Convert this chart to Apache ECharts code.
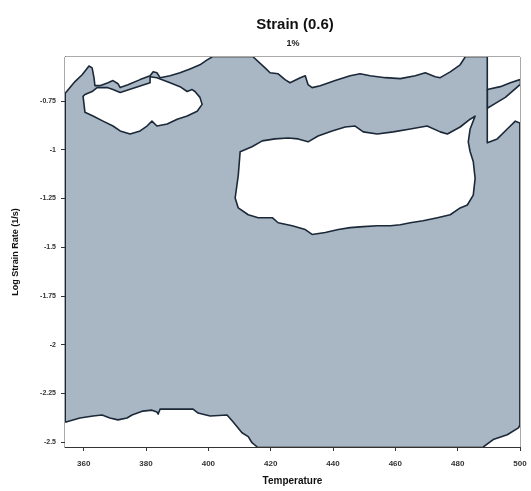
<!DOCTYPE html>
<html><head><meta charset="utf-8">
<script src="https://cdn.jsdelivr.net/npm/echarts@6/dist/echarts.min.js"></script>
<style>html,body{margin:0;padding:0;background:#fff}#c{width:531px;height:491px}</style>
</head><body><div id="c"></div>
<script>
// axis ranges and tick labels
const xRange = [354, 500];
const yRange = [-2.525, -0.525];
const xTicks = [360, 380, 400, 420, 440, 460, 480, 500];
const yTicks = [-0.75, -1, -1.25, -1.5, -1.75, -2, -2.25, -2.5];

// white regions: [Temperature, log strain rate]
const regionTopLeft = [[354,-0.525],[354,-0.712],[357.2,-0.651],[359.5,-0.616],[361.7,-0.571],[362.7,-0.581],[363.3,-0.631],[363.6,-0.672],[365.2,-0.672],[367.8,-0.657],[369.4,-0.646],[371.0,-0.662],[371.7,-0.682],[374.2,-0.667],[378.1,-0.641],[381.3,-0.621],[382.3,-0.601],[383.5,-0.606],[384.5,-0.631],[387.7,-0.621],[390.9,-0.606],[394.1,-0.586],[397.3,-0.565],[399.6,-0.540],[401.2,-0.525]];
const holeTopLeft = [[359.8,-0.727],[360.4,-0.808],[363.0,-0.828],[366.2,-0.854],[369.4,-0.879],[371.7,-0.904],[374.9,-0.920],[378.1,-0.904],[380.3,-0.879],[381.9,-0.854],[383.5,-0.879],[386.8,-0.869],[390.0,-0.844],[393.2,-0.828],[396.4,-0.803],[398.0,-0.768],[397.3,-0.732],[395.7,-0.702],[394.8,-0.692],[393.2,-0.702],[390.9,-0.677],[387.7,-0.657],[383.5,-0.631],[381.3,-0.626],[381.3,-0.657],[371.7,-0.707],[369.4,-0.692],[367.5,-0.682],[364.3,-0.682],[362.7,-0.702],[360.4,-0.717]];
const regionTopMid = [[414.4,-0.525],[418.2,-0.581],[419.8,-0.606],[422.4,-0.611],[424.6,-0.641],[426.2,-0.657],[429.5,-0.631],[431.1,-0.621],[432.0,-0.667],[433.3,-0.682],[435.9,-0.672],[440.7,-0.646],[445.5,-0.621],[448.7,-0.611],[451.9,-0.621],[456.8,-0.631],[461.6,-0.636],[466.4,-0.621],[469.6,-0.606],[472.8,-0.626],[474.4,-0.631],[477.6,-0.601],[480.8,-0.565],[482.4,-0.525]];
const regionTopRight = [[500,-0.641],[496.9,-0.657],[493.7,-0.677],[489.5,-0.692],[489.5,-0.525],[500,-0.525]];
const regionRightMid = [[500,-0.864],[498.5,-0.854],[495.9,-0.894],[492.7,-0.945],[489.5,-0.965],[489.5,-0.788],[492.1,-0.763],[495.3,-0.732],[500,-0.667]];
const holeCentral = [[410.2,-1.011],[414.0,-0.985],[417.3,-0.955],[421.4,-0.945],[425.6,-0.940],[428.8,-0.945],[432.0,-0.960],[435.2,-0.930],[439.7,-0.904],[443.9,-0.884],[447.1,-0.879],[449.7,-0.909],[454.2,-0.920],[459.3,-0.909],[464.8,-0.894],[470.2,-0.879],[474.4,-0.909],[476.7,-0.920],[480.8,-0.884],[484.0,-0.844],[485.6,-0.828],[484.0,-0.894],[483.4,-0.960],[484.0,-1.011],[485.0,-1.061],[485.6,-1.147],[485.0,-1.233],[483.1,-1.284],[480.8,-1.299],[477.6,-1.334],[473.5,-1.349],[468.9,-1.365],[464.8,-1.375],[461.6,-1.385],[458.4,-1.390],[454.2,-1.390],[449.7,-1.395],[445.5,-1.400],[441.7,-1.410],[437.5,-1.425],[433.3,-1.435],[431.1,-1.410],[426.9,-1.390],[422.4,-1.375],[420.5,-1.349],[416.0,-1.349],[412.8,-1.334],[409.6,-1.299],[408.6,-1.248],[409.6,-1.132]];
const regionBottomLeft = [[354,-2.396],[354.6,-2.396],[358.8,-2.376],[363.0,-2.366],[365.9,-2.361],[368.4,-2.376],[371.0,-2.386],[373.9,-2.376],[375.5,-2.361],[379.0,-2.341],[381.9,-2.336],[383.5,-2.346],[383.9,-2.356],[384.5,-2.331],[388.7,-2.331],[395.1,-2.331],[396.7,-2.351],[400.6,-2.366],[406.0,-2.361],[407.9,-2.396],[410.8,-2.452],[412.8,-2.472],[414.0,-2.503],[415.7,-2.525],[354,-2.525]];
const regionBottomRight = [[488.2,-2.525],[491.4,-2.487],[495.9,-2.462],[499.5,-2.427],[500,-2.412],[500,-2.525]];
// extra contour segments
const bandDivider = [[489.5,-0.692],[489.5,-0.788]];
const leftEdge = [[354,-0.712],[354,-2.396]];
const rightEdge = [[500,-0.864],[500,-2.412]];

const whiteRegions = [
  [regionTopLeft, false], [holeTopLeft, true], [regionTopMid, false], [regionTopRight, false],
  [regionRightMid, false], [holeCentral, true], [regionBottomLeft, false], [regionBottomRight, false]
];
const extraLines = [bandDivider, leftEdge, rightEdge];

const FILL = '#a9b7c5';
const LINE = '#1b2838';

function isCorner(p) {
  return (p[0] === xRange[0] || p[0] === xRange[1]) && (p[1] === yRange[0] || p[1] === yRange[1]);
}
const series = [];
whiteRegions.forEach(([pts]) => {
  series.push({
    type: 'custom', coordinateSystem: 'cartesian2d', silent: true, clip: true, z: 2,
    data: [pts[0]],
    renderItem: (params, api) => ({
      type: 'polygon', shape: { points: pts.map(p => api.coord(p)) },
      style: { fill: '#ffffff', stroke: null }
    })
  });
});
whiteRegions.forEach(([pts, closed]) => {
  const linePts = closed ? pts : pts.filter(p => !isCorner(p));
  series.push({
    type: 'custom', coordinateSystem: 'cartesian2d', silent: true, clip: true, z: 3,
    data: [linePts[0]],
    renderItem: (params, api) => ({
      type: closed ? 'polygon' : 'polyline',
      shape: { points: linePts.map(p => api.coord(p)) },
      style: { fill: null, stroke: LINE, lineWidth: 1.6, lineJoin: 'round' }
    })
  });
});
extraLines.forEach(pts => {
  series.push({
    type: 'custom', coordinateSystem: 'cartesian2d', silent: true, clip: true, z: 3,
    data: [pts[0]],
    renderItem: (params, api) => ({
      type: 'polyline', shape: { points: pts.map(p => api.coord(p)) },
      style: { fill: null, stroke: LINE, lineWidth: 1.8 }
    })
  });
});

const chart = echarts.init(document.getElementById('c'), null, { renderer: 'canvas' });
const FONT = 'Liberation Sans, Arial, sans-serif';
chart.setOption({
  animation: false,
  backgroundColor: '#ffffff',
  title: [
    { text: 'Strain (0.6)', left: 290, top: 12, textAlign: 'center',
      textStyle: { fontFamily: FONT, fontSize: 15, fontWeight: 'bold', color: '#111' } },
    { text: '1%', left: 288, top: 34, textAlign: 'center',
      textStyle: { fontFamily: FONT, fontSize: 9, fontWeight: 'bold', color: '#222' } }
  ],
  grid: { left: 65, right: 11, top: 57, bottom: 39, show: true, backgroundColor: FILL,
          borderColor: '#555', borderWidth: 1 },
  xAxis: {
    type: 'value', min: xRange[0], max: xRange[1],
    name: 'Temperature', nameLocation: 'middle', nameGap: 29,
    nameTextStyle: { fontFamily: FONT, fontSize: 10, fontWeight: 'bold', color: '#111' },
    axisLine: { show: true, onZero: false, lineStyle: { color: '#333', width: 1 } },
    axisTick: { show: true, customValues: xTicks, length: 4, lineStyle: { color: '#333' } },
    axisLabel: { customValues: xTicks, fontFamily: FONT, fontSize: 8, fontWeight: 'bold', color: '#333', margin: 13 },
    splitLine: { show: false }
  },
  yAxis: {
    type: 'value', min: yRange[0], max: yRange[1],
    name: 'Log Strain Rate (1/s)', nameLocation: 'middle', nameGap: 45, nameRotate: 90,
    nameTextStyle: { fontFamily: FONT, fontSize: 9, fontWeight: 'bold', color: '#111' },
    axisLine: { show: true, onZero: false, lineStyle: { color: '#333', width: 1 } },
    axisTick: { show: true, customValues: yTicks, length: 4, lineStyle: { color: '#333' } },
    axisLabel: { customValues: yTicks, fontFamily: FONT, fontSize: 7, fontWeight: 'bold', color: '#333', margin: 9,
                 formatter: v => String(v) },
    splitLine: { show: false }
  },
  series: series
});
</script>
</body></html>
